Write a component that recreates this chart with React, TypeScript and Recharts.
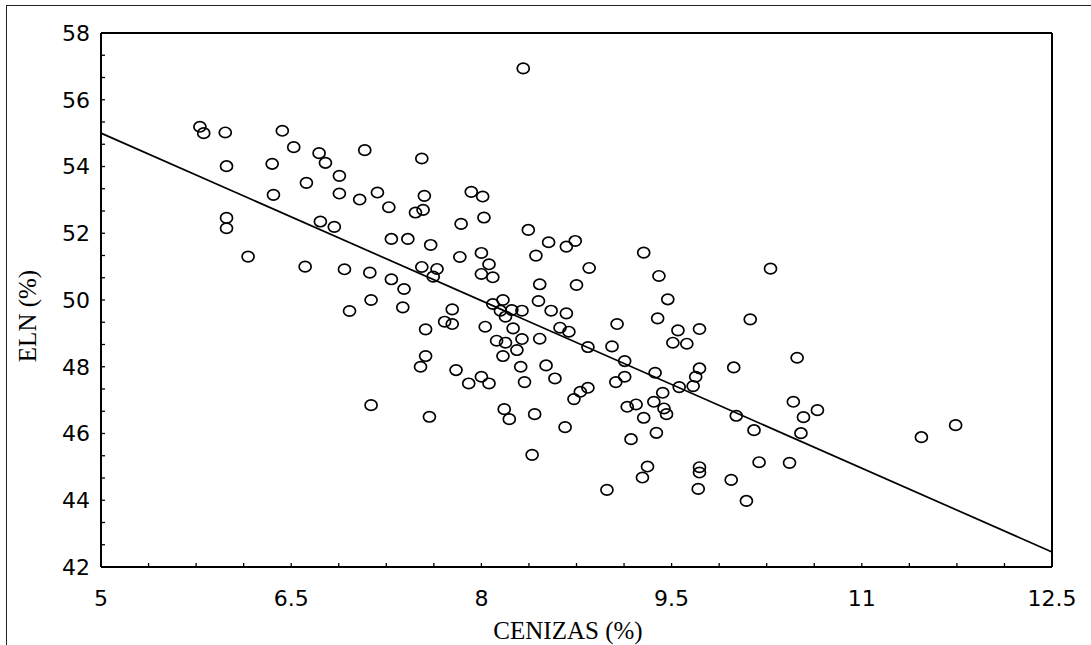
import React from "react";
import {
  Label,
  Scatter,
  ScatterChart,
  XAxis,
  YAxis,
} from "recharts";

// ash content (%) of each sample
const cenizas = [
  5.78, 5.81, 5.98, 6.43, 6.52, 6.72, 6.77, 7.08, 5.99, 6.35,
  6.88, 6.62, 6.36, 6.88, 7.04, 7.18, 7.27, 7.48, 7.53, 7.55,
  5.99, 5.99, 6.73, 6.84, 7.29, 7.42, 6.16, 6.61, 6.92, 7.12,
  7.53, 8.33, 7.92, 8.01, 7.54, 7.84, 8.02, 8.37, 7.6, 8.53,
  8.67, 8.74, 9.28, 8.43, 7.83, 8.0, 8.06, 7.65, 8.85, 10.28,
  7.29, 7.39, 7.13, 6.96, 7.38, 7.52, 7.13, 7.62, 8.0, 8.09,
  8.46, 8.75, 9.4, 9.47, 8.45, 7.77, 8.09, 8.17, 8.15, 8.24,
  8.32, 8.19, 8.55, 8.67, 9.39, 7.71, 7.77, 9.07, 7.56, 8.03,
  8.25, 8.62, 8.69, 9.55, 9.72, 9.51, 9.62, 8.12, 8.19, 8.32,
  8.46, 8.84, 9.03, 8.28, 8.17, 7.56, 9.13, 8.31, 8.51, 7.8,
  9.72, 9.69, 9.37, 8.0, 7.9, 8.06, 8.34, 8.58, 9.13, 9.06,
  9.67, 9.56, 8.84, 8.78, 8.73, 9.43, 9.36, 9.44, 9.46, 9.15,
  9.22, 9.28, 9.38, 9.18, 8.18, 8.22, 8.42, 8.66, 7.59, 8.4,
  9.31, 9.27, 9.72, 9.72, 9.71, 8.99, 10.12, 10.49, 9.99, 10.46,
  10.65, 10.54, 10.52, 10.01, 10.15, 10.19, 10.43, 9.97, 10.09, 11.47,
  11.74,
];

// ELN (%) of each sample, same order
const eln = [
  55.19, 55.0, 55.02, 55.07, 54.58, 54.4, 54.11, 54.49, 54.01, 54.08,
  53.72, 53.51, 53.15, 53.19, 53.01, 53.22, 52.78, 52.62, 54.24, 53.12,
  52.46, 52.15, 52.35, 52.19, 51.83, 51.83, 51.3, 51.0, 50.92, 50.82,
  50.99, 56.94, 53.24, 53.1, 52.7, 52.28, 52.47, 52.1, 51.65, 51.73,
  51.6, 51.77, 51.42, 51.33, 51.29, 51.41, 51.07, 50.93, 50.96, 50.94,
  50.62, 50.33, 50.0, 49.67, 49.78, 48.0, 46.85, 50.7, 50.78, 50.68,
  50.47, 50.45, 50.72, 50.02, 49.97, 49.72, 49.88, 50.0, 49.68, 49.7,
  49.68, 49.5, 49.68, 49.6, 49.45, 49.35, 49.28, 49.28, 49.12, 49.2,
  49.15, 49.17, 49.05, 49.09, 49.13, 48.72, 48.69, 48.78, 48.72, 48.83,
  48.84, 48.59, 48.61, 48.5, 48.32, 48.32, 48.17, 48.0, 48.04, 47.9,
  47.95, 47.7, 47.82, 47.7, 47.5, 47.5, 47.54, 47.65, 47.7, 47.54,
  47.42, 47.39, 47.37, 47.25, 47.03, 47.22, 46.95, 46.75, 46.58, 46.8,
  46.87, 46.47, 46.02, 45.83, 46.73, 46.43, 46.58, 46.19, 46.5, 45.36,
  45.01, 44.68, 44.99, 44.83, 44.34, 44.31, 49.42, 48.27, 47.98, 46.95,
  46.7, 46.49, 46.01, 46.53, 46.1, 45.14, 45.12, 44.61, 43.98, 45.89,
  46.25,
];

// fitted regression line, end points
const fitX = [5, 12.5];
const fitY = [55.0, 42.45];

const xMajor = [5, 6.5, 8, 9.5, 11, 12.5];
const yMajor = [42, 44, 46, 48, 50, 52, 54, 56, 58];

const points = cenizas.map((x, i) => ({ x, y: eln[i] }));
const fitLine = fitX.map((x, i) => ({ x, y: fitY[i] }));

// minor ticks: 4 per labelled step on x, 3 per step on y
const xTicks = Array.from({ length: 21 }, (_, i) => 5 + i * 0.375);
const yTicks = Array.from({ length: 25 }, (_, i) => 42 + (i * 2) / 3);

const isMajor = (v: number, majors: number[]) =>
  majors.some((m) => Math.abs(m - v) < 1e-6);

const tickFont = {
  fontSize: 22,
  fontFamily: "DejaVu Sans",
  fill: "#000",
};

const titleFont = "Liberation Serif";
const axisStroke = { stroke: "#000", strokeWidth: 2 };
const tickStroke = { stroke: "#000", strokeWidth: 1.3 };

const Ring = (props: any) => {
  const { cx, cy } = props;
  if (cx == null || cy == null) return <g />;
  return (
    <ellipse
      cx={cx}
      cy={cy}
      rx={6}
      ry={5.2}
      fill="none"
      stroke="#000"
      strokeWidth={1.7}
    />
  );
};

const Nothing = () => <g />;

const App = () => {
  return (
    <div
      style={{
        position: "absolute",
        left: 0,
        top: 0,
        width: 1091,
        height: 645,
        background: "#fff",
      }}
    >
      <div
        style={{
          position: "absolute",
          left: 6,
          top: 5,
          right: 0,
          bottom: 0,
          borderLeft: "1.5px solid #222",
          borderTop: "1.5px solid #222",
        }}
      />
      <ScatterChart
        width={1091}
        height={645}
        margin={{ top: 32, right: 38, bottom: 0, left: 0 }}
      >
        <XAxis
          xAxisId="b"
          type="number"
          dataKey="x"
          domain={[5, 12.5]}
          ticks={xTicks}
          interval={0}
          tickFormatter={(v: number) => (isMajor(v, xMajor) ? String(v) : "")}
          tickSize={-4}
          tickMargin={27}
          height={78}
          tick={tickFont}
          axisLine={axisStroke}
          tickLine={tickStroke}
        >
          <Label
            content={() => (
              <text
                x={568}
                y={639}
                textAnchor="middle"
                fontFamily={titleFont}
                fontSize={25}
                fill="#000"
              >
                CENIZAS (%)
              </text>
            )}
          />
        </XAxis>
        <XAxis
          xAxisId="t"
          orientation="top"
          type="number"
          dataKey="x"
          domain={[5, 12.5]}
          ticks={xTicks}
          interval={0}
          tick={false}
          tickSize={-4}
          height={1}
          axisLine={axisStroke}
          tickLine={tickStroke}
        />
        <YAxis
          yAxisId="l"
          type="number"
          dataKey="y"
          domain={[42, 58]}
          ticks={yTicks}
          interval={0}
          tickFormatter={(v: number) => (isMajor(v, yMajor) ? String(v) : "")}
          tickSize={-4}
          tickMargin={15}
          width={101}
          tick={tickFont}
          axisLine={axisStroke}
          tickLine={tickStroke}
        >
          <Label
            content={() => (
              <text
                x={36}
                y={316}
                transform="rotate(-90 36 316)"
                textAnchor="middle"
                fontFamily={titleFont}
                fontSize={25}
                fill="#000"
              >
                ELN (%)
              </text>
            )}
          />
        </YAxis>
        <YAxis
          yAxisId="r"
          orientation="right"
          type="number"
          dataKey="y"
          domain={[42, 58]}
          ticks={yTicks}
          interval={0}
          tick={false}
          tickSize={-4}
          width={1}
          axisLine={axisStroke}
          tickLine={tickStroke}
        />
        {/* invisible series so the mirrored top/right axes get drawn */}
        <Scatter
          xAxisId="t"
          yAxisId="r"
          data={fitLine}
          shape={Nothing}
          isAnimationActive={false}
        />
        <Scatter
          xAxisId="b"
          yAxisId="l"
          data={fitLine}
          line={{ stroke: "#000", strokeWidth: 1.7 }}
          shape={Nothing}
          isAnimationActive={false}
        />
        <Scatter
          xAxisId="b"
          yAxisId="l"
          data={points}
          shape={Ring}
          isAnimationActive={false}
        />
      </ScatterChart>
    </div>
  );
};

export default App;
